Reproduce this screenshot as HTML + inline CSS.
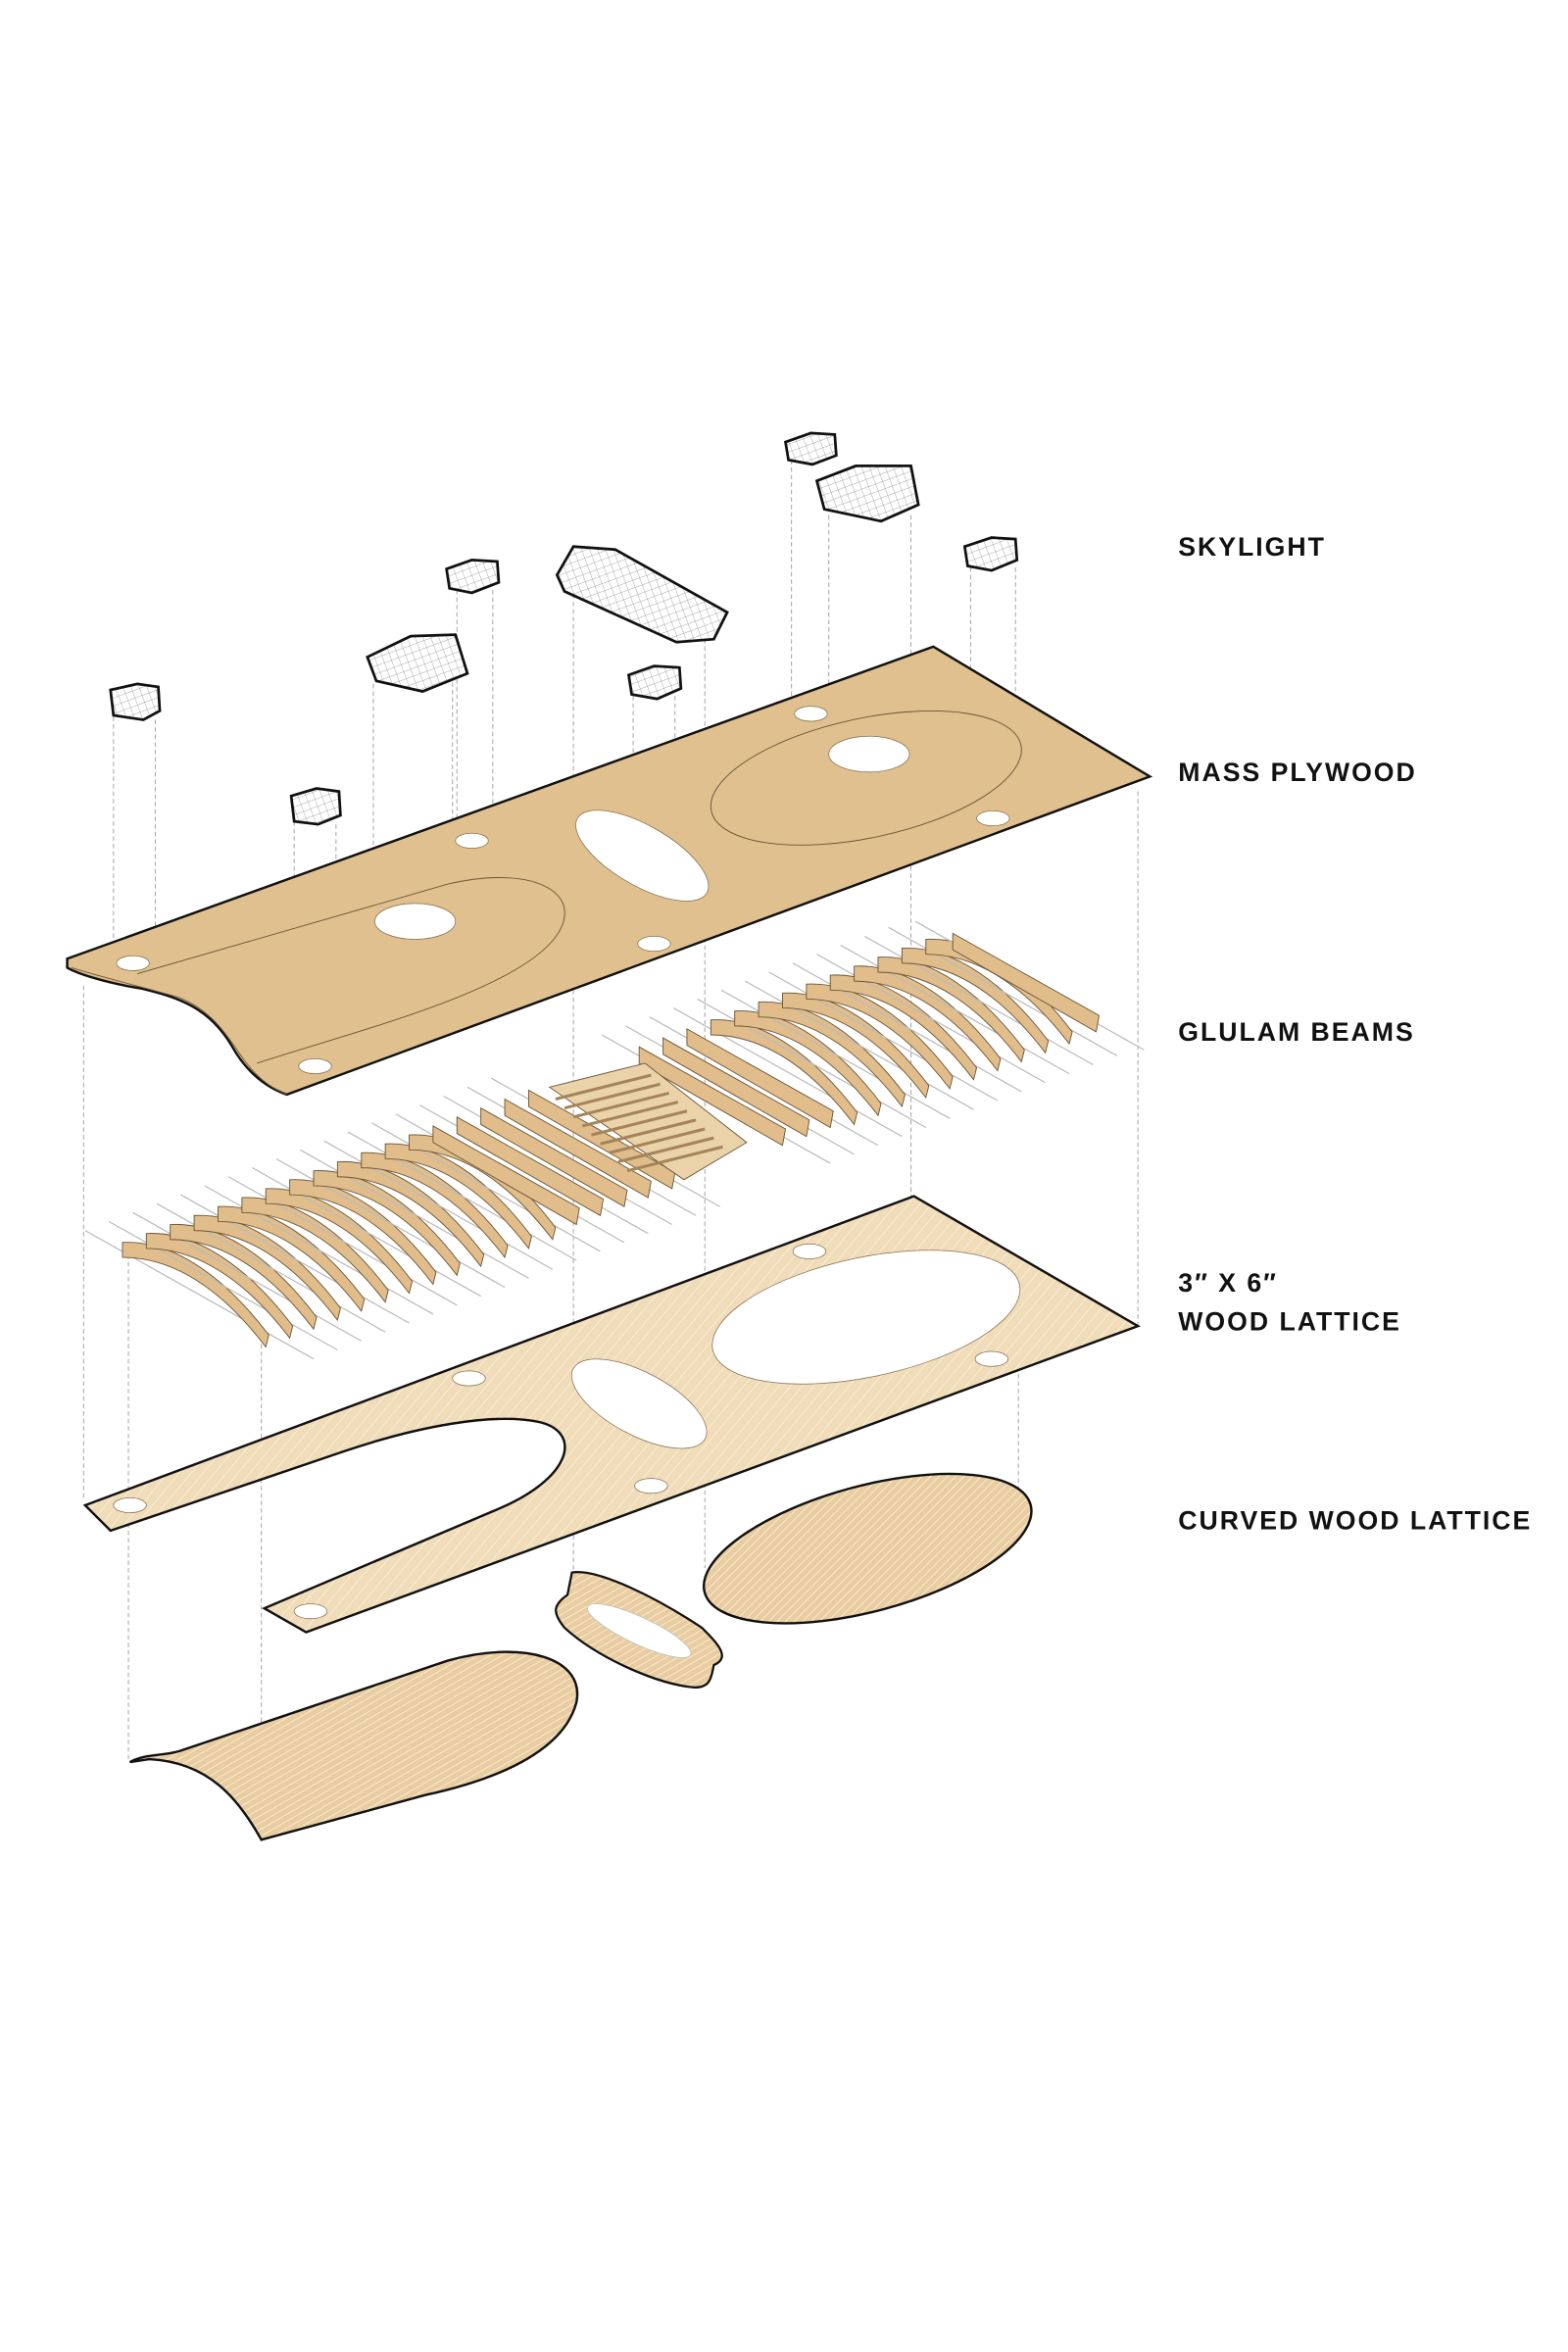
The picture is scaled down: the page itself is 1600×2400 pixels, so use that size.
<!DOCTYPE html>
<html><head><meta charset="utf-8"><style>
html,body{margin:0;padding:0;background:#fff;}
svg{display:block}
.lbl{font-family:"Liberation Sans",sans-serif;font-size:17.5px;letter-spacing:1.3px;fill:#111;font-weight:bold;}
.d{stroke:#aaa;stroke-width:0.7;stroke-dasharray:3 2;fill:none}
.sk{stroke:#111;stroke-width:1.8}
.h{fill:#fff}
</style></head><body>
<svg width="1600" height="2400" viewBox="0 0 1050 1575" xmlns="http://www.w3.org/2000/svg">
<defs>
<pattern id="grid" width="5" height="5" patternUnits="userSpaceOnUse" patternTransform="rotate(-20)">
<rect width="5" height="5" fill="#fff"/>
<path d="M0,0 L5,0 M0,0 L0,5" stroke="#888" stroke-width="0.45" fill="none"/></pattern>
<pattern id="hatch" width="6" height="6" patternUnits="userSpaceOnUse" patternTransform="rotate(40)">
<rect width="6" height="6" fill="#f0dcb8"/><path d="M0,0 L0,6" stroke="#fff" stroke-width="0.6"/></pattern>
<pattern id="hatch2" width="4" height="4" patternUnits="userSpaceOnUse" patternTransform="rotate(60)">
<rect width="4" height="4" fill="#e9cda0"/><path d="M0,0 L0,4" stroke="#fff" stroke-width="0.7"/></pattern>
<g id="fin">
<line x1="-25" y1="-8" x2="128" y2="78" stroke="#bbb" stroke-width="0.8"/>
<path d="M0,0 C35,-2 70,25 98,62 L96,70 C70,36 38,10 0,10 Z" fill="#e0bd8a" stroke="#6b5538" stroke-width="0.6"/>
</g>
<g id="finS">
<line x1="-25" y1="-8" x2="128" y2="78" stroke="#bbb" stroke-width="0.8"/>
<path d="M0,0 L98,55 L96,66 L0,11 Z" fill="#e0bd8a" stroke="#6b5538" stroke-width="0.6"/>
</g>
</defs>

<!-- dashed guide lines -->
<g class="d">
<path d="M76,480 V640 M104,482 V640 M197,550 V712 M225,552 V712 M250,458 V610 M303,452 V610 M306,395 V560 M330,395 V560 M384,398 V1055 M424,466 V630 M452,466 V630 M472,428 V1050 M530,308 V475 M555,345 V500 M610,345 V860 M650,380 V540 M680,380 V540"/>
<path d="M56,660 V1005 M86,840 V1180 M175,900 V1232 M762,530 V888 M682,905 V1000 M610,640 V800"/>
</g>

<!-- skylights -->
<g class="sk" style="fill:url(#grid)">
<path d="M74,462 L92,458 L106,460 L107,476 L96,482 L76,479 Z"/>
<path d="M195,533 L212,528 L227,530 L228,546 L213,552 L197,550 Z"/>
<path d="M246,440 L275,426 L305,425 L313,451 L283,463 L252,456 Z"/>
<path d="M299,381 L316,375 L333,376 L334,390 L316,397 L301,394 Z"/>
<path d="M373,385 L384,366 L412,368 L487,410 L478,428 L453,430 L378,396 Z"/>
<path d="M421,452 L438,446 L455,447 L456,461 L440,468 L423,465 Z"/>
<path d="M526,296 L543,290 L559,291 L560,305 L544,311 L528,308 Z"/>
<path d="M547,322 L573,312 L610,312 L615,338 L590,349 L552,341 Z"/>
<path d="M646,366 L664,360 L680,361 L681,375 L664,382 L648,379 Z"/>
</g>

<!-- mass plywood -->
<path d="M45,642 L625,433 L770,520 L192,733 C178,728 165,718 155,700 C140,675 120,668 95,662 C70,658 52,652 45,648 Z" fill="#dfc08e" stroke="#111" stroke-width="1.6"/>
<path d="M48,648 C70,655 100,662 120,668 C140,676 150,690 160,705 C170,720 180,728 192,733" fill="none" stroke="#6b5538" stroke-width="0.6"/>
<path d="M92,652 L300,592 C360,578 395,600 370,630 C340,665 240,690 172,712" fill="none" stroke="#6b5538" stroke-width="0.6"/>
<ellipse cx="580" cy="521" rx="106" ry="40" transform="rotate(-12 580 521)" fill="none" stroke="#6b5538" stroke-width="0.6"/>
<g class="h" stroke="#8a7050" stroke-width="0.5">
<ellipse cx="89" cy="645" rx="11" ry="5"/><ellipse cx="316" cy="563" rx="11" ry="5"/><ellipse cx="211" cy="714" rx="11" ry="5"/>
<ellipse cx="438" cy="632" rx="11" ry="5"/><ellipse cx="543" cy="478" rx="11" ry="5"/><ellipse cx="665" cy="548" rx="11" ry="5"/>
<ellipse cx="278" cy="617" rx="27" ry="12"/><ellipse cx="582" cy="505" rx="27" ry="12"/>
<ellipse cx="430" cy="573" rx="50" ry="20" transform="rotate(30 430 573)"/>
</g>

<!-- glulam beams -->
<g>
<use href="#fin" x="82" y="832"/><use href="#fin" x="98" y="826"/><use href="#fin" x="114" y="820"/><use href="#fin" x="130" y="814"/>
<use href="#fin" x="146" y="808"/><use href="#fin" x="162" y="802"/><use href="#fin" x="178" y="796"/><use href="#fin" x="194" y="790"/>
<use href="#fin" x="210" y="784"/><use href="#fin" x="226" y="778"/><use href="#fin" x="242" y="772"/><use href="#fin" x="258" y="766"/>
<use href="#fin" x="274" y="760"/><use href="#finS" x="290" y="754"/><use href="#finS" x="306" y="748"/><use href="#finS" x="322" y="742"/>
<use href="#finS" x="338" y="736"/><use href="#finS" x="354" y="730"/>
<use href="#finS" x="428" y="701"/><use href="#finS" x="444" y="695"/><use href="#finS" x="460" y="689"/><use href="#fin" x="476" y="683"/>
<use href="#fin" x="492" y="677"/><use href="#fin" x="508" y="671"/><use href="#fin" x="524" y="665"/><use href="#fin" x="540" y="659"/>
<use href="#fin" x="556" y="653"/><use href="#fin" x="572" y="647"/><use href="#fin" x="588" y="641"/><use href="#fin" x="604" y="635"/>
<use href="#fin" x="620" y="629"/><use href="#finS" x="638" y="625"/>
</g>
<g stroke="#6b5538" stroke-width="0.6" fill="#e0bd8a">
<path d="M368,728 L432,712 L500,765 L458,790 Z" fill="#ead3a9"/>
<path d="M372,736 L436,720 M378,742 L442,726 M384,748 L448,732 M390,754 L454,738 M396,760 L460,744 M402,766 L466,750 M408,772 L472,756 M414,778 L478,762 M420,784 L484,768" stroke="#a6845a" stroke-width="2"/>
</g>

<!-- 3x6 wood lattice -->
<path d="M57,1008 L612,801 L762,888 L205,1093 L177,1077 L330,1012 C385,990 390,958 360,952 C330,946 280,955 230,972 L74,1025 Z" fill="url(#hatch)" stroke="#111" stroke-width="1.6"/>
<g class="h" stroke="#8a7050" stroke-width="0.5">
<ellipse cx="87" cy="1008" rx="11" ry="5"/><ellipse cx="314" cy="923" rx="11" ry="5"/><ellipse cx="436" cy="995" rx="11" ry="5"/>
<ellipse cx="542" cy="838" rx="11" ry="5"/><ellipse cx="664" cy="910" rx="11" ry="5"/><ellipse cx="208" cy="1079" rx="11" ry="5"/>
<ellipse cx="580" cy="882" rx="105" ry="40" transform="rotate(-12 580 882)"/>
<ellipse cx="428" cy="940" rx="50" ry="21" transform="rotate(28 428 940)"/>
</g>

<!-- curved wood lattice -->
<path d="M87,1180 C97,1174 112,1176 122,1172 L300,1112 C350,1098 392,1110 386,1140 C378,1170 340,1190 285,1202 L175,1232 C160,1205 140,1180 100,1178 Z" fill="url(#hatch2)" stroke="#111" stroke-width="1.6"/>
<ellipse cx="581" cy="1037" rx="113" ry="42" transform="rotate(-15 581 1037)" fill="url(#hatch2)" stroke="#111" stroke-width="1.6"/>
<path d="M383,1053 C400,1050 440,1070 470,1090 C480,1100 490,1110 478,1115 C476,1125 475,1130 465,1130 C440,1128 400,1110 378,1090 C370,1080 370,1075 380,1068 Z" fill="url(#hatch2)" stroke="#111" stroke-width="1.5"/>
<ellipse cx="428" cy="1092" rx="38" ry="9" transform="rotate(25 428 1092)" fill="#fff" stroke="#bbb" stroke-width="0.5"/>

<!-- labels -->
<text class="lbl" x="789" y="372">SKYLIGHT</text>
<text class="lbl" x="789" y="523">MASS PLYWOOD</text>
<text class="lbl" x="789" y="697">GLULAM BEAMS</text>
<text class="lbl" x="789" y="865">3″ X 6″</text>
<text class="lbl" x="789" y="891">WOOD LATTICE</text>
<text class="lbl" x="789" y="1024">CURVED WOOD LATTICE</text>
</svg>
</body></html>
